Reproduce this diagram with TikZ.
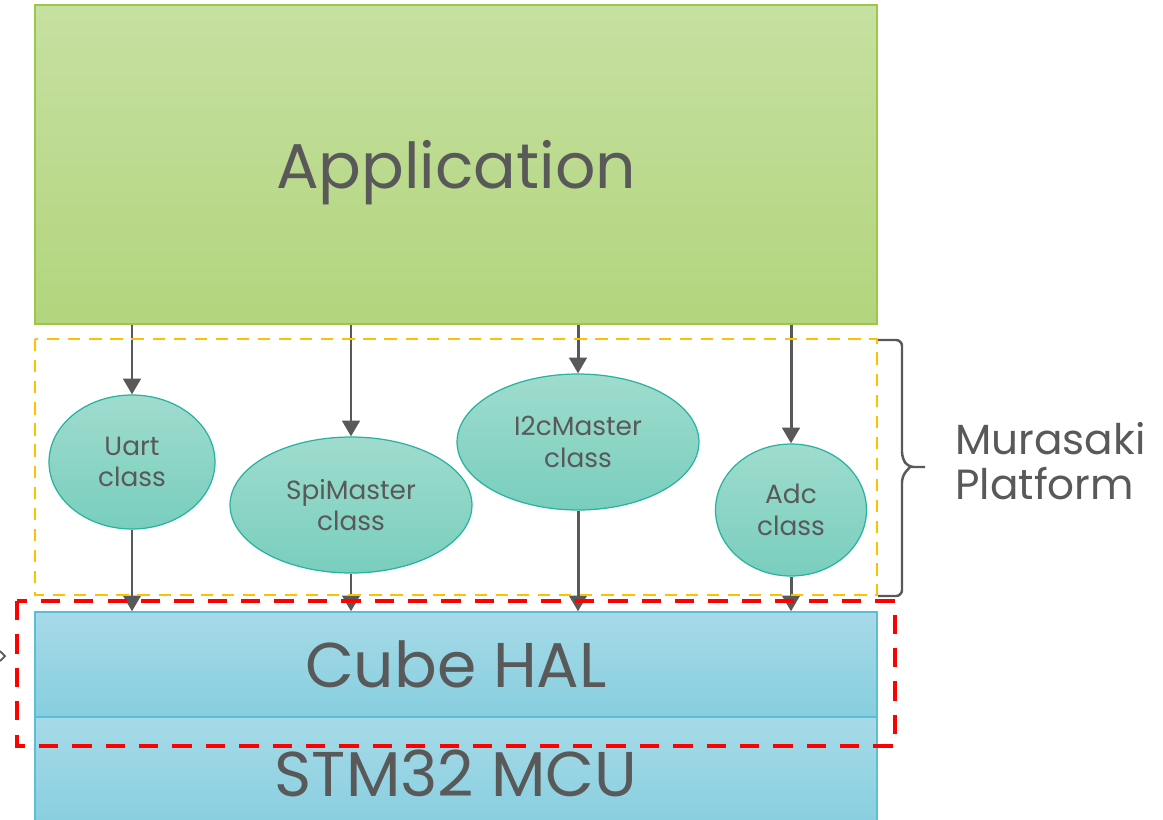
\documentclass[tikz,border=0pt]{standalone}
\usepackage{fontspec}
\setmainfont{Poppins}
\usetikzlibrary{shapes.geometric,arrows.meta}

\definecolor{txtgray}{HTML}{595959}
\definecolor{appborder}{HTML}{9CC84A}
\definecolor{apptop}{HTML}{C6E0A1}
\definecolor{appbot}{HTML}{B2D57D}
\definecolor{clsborder}{HTML}{27B39F}
\definecolor{clstop}{HTML}{9FDCCE}
\definecolor{clsbot}{HTML}{79CEBD}
\definecolor{halborder}{HTML}{5CBDD6}
\definecolor{haltop}{HTML}{A7DAE8}
\definecolor{halbot}{HTML}{86CEDF}
\definecolor{platorange}{HTML}{FFC000}

\begin{document}
\begin{tikzpicture}[x=0.02cm,y=-0.02cm]
            \tikzstyle{every node}+=[inner sep=0pt,text=txtgray]
            \tikzstyle{layer}=[draw=halborder,line width=0.8pt,top color=haltop,bottom color=halbot,minimum width=16.84cm,font=\fontsize{36}{40}\selectfont]
            \tikzstyle{cls}=[ellipse,draw=clsborder,line width=0.7pt,top color=clstop,bottom color=clsbot,align=center,font=\fontsize{15}{18}\selectfont]
            \tikzstyle{flow}=[draw=txtgray,line width=1.7pt,-{Triangle[width=10pt,length=9pt]}]
            \clip (0,0) rectangle (1163,819);
            \fill[white] (0,0) rectangle (1163,819);
            % layers
            \node (app) [layer,draw=appborder,top color=apptop,bottom color=appbot,minimum height=6.38cm,text depth=0pt] at (456,164.5) {Application};
            \node (hal) [layer,minimum height=2.1cm] at (456,664.5) {Cube HAL};
            \node (mcu) [layer,minimum height=2.26cm] at (456,773.5) {STM32 MCU};
            % classes
            \node (uart) [cls,minimum width=3.32cm,minimum height=2.68cm] at (132,462) {Uart\\class};
            \node (spi) [cls,minimum width=4.84cm,minimum height=2.72cm] at (351,505) {SpiMaster\\class};
            \node (i2c) [cls,minimum width=4.84cm,minimum height=2.72cm] at (578,442) {I2cMaster\\class};
            \node (adc) [cls,minimum width=3.02cm,minimum height=2.64cm] at (791,510) {Adc\\class};
            \foreach \c in {uart,spi,i2c,adc} {
              \draw[flow] (app.south -| \c.north) -- (\c.north);
              \draw[flow] (\c.south) -- (\c.south |- hal.north);
            }
            % groups
            \draw[platorange,line width=1.5pt,dash pattern=on 7pt off 5pt] (35,339) rectangle (877,595);
            \draw[red,line width=2.2pt,dash pattern=on 11pt off 8pt] (17,601) rectangle (895,746);
            \draw[txtgray,line width=1.4pt,rounded corners=0.12cm] (878,340) -| (902,458) -- (908,467) -- (925,467);
            \draw[txtgray,line width=1.4pt,rounded corners=0.12cm] (910,467) -- (902,476) |- (878,596);
            \node (plat) [anchor=west,align=left,font=\fontsize{24}{26}\selectfont] at (955,461) {Murasaki\\Platform};
            \draw[txtgray,line width=1pt] (0,651) -- (5,656) -- (0,661);
        \end{tikzpicture}
\end{document}
